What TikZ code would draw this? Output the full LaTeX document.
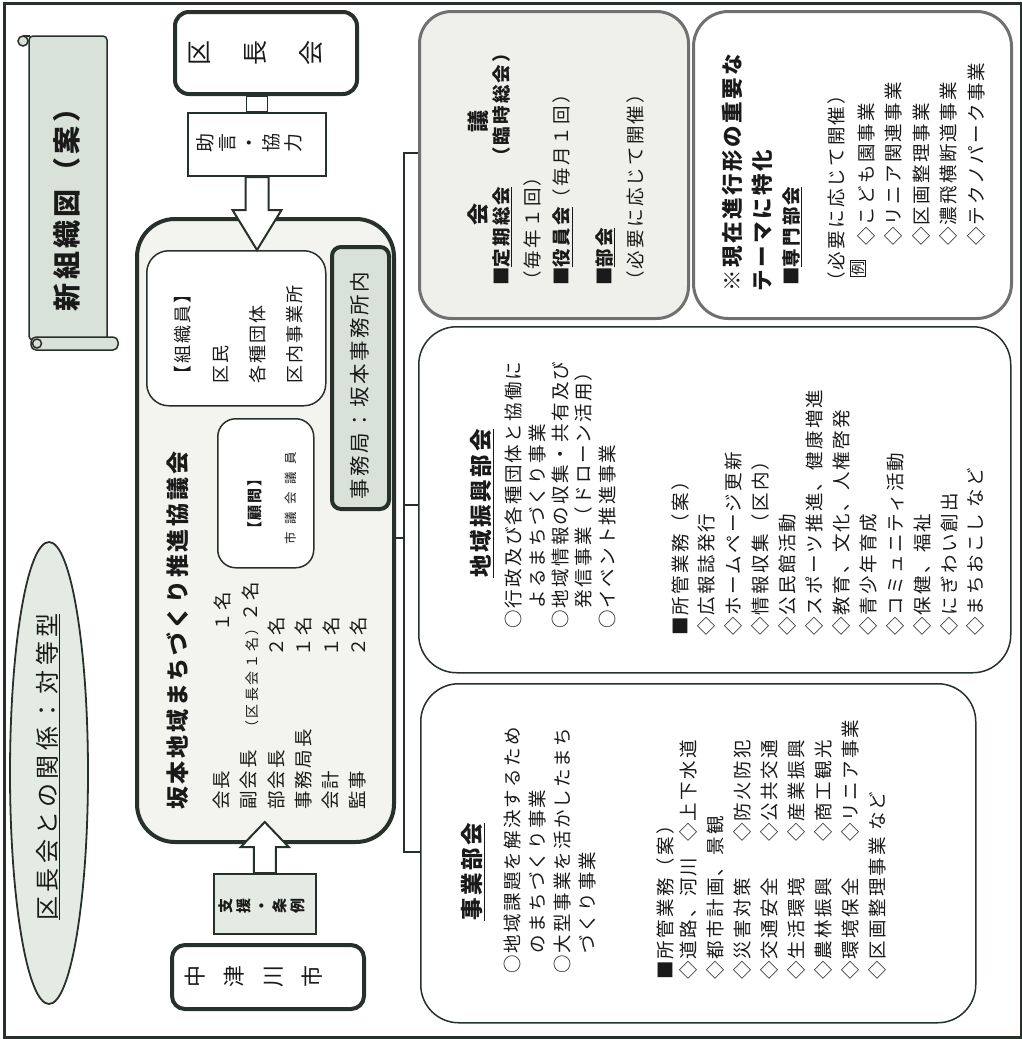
\documentclass[tikz,border=0pt]{standalone}
\usepackage{fontspec}
\setmainfont{Noto Sans CJK JP}
\newfontfamily\jp{Noto Sans CJK JP}[LetterSpace=12]
\newfontfamily\jpa{Noto Sans CJK JP}
\newfontfamily\jpe{Noto Sans CJK JP}[LetterSpace=18]
\newfontfamily\jpw{Noto Sans CJK JP}[LetterSpace=60]
\usetikzlibrary{calc,shapes.geometric}
\definecolor{ink}{HTML}{1A1A1A}
\definecolor{edge}{HTML}{27302B}
\definecolor{gedge}{HTML}{707070}
\definecolor{pale}{HTML}{D9E2D9}
\definecolor{palelt}{HTML}{E4EBE4}
\definecolor{cfill}{HTML}{F3F3EF}
\definecolor{kfill}{HTML}{EFEFEB}
\newcommand{\fsz}[2]{\fontsize{#1}{#2}\selectfont}
\newcommand{\bx}[6]{\node[#6, anchor=north west, minimum width=#4pt-#2pt, minimum height=#5pt-#3pt, inner sep=0pt] (#1) at (#2,#3) {};}
\tikzset{
  txt/.style={rotate=90, inner sep=0pt, text=ink},
  tl/.style={txt, anchor=west},
  blk/.style={txt, align=left, anchor=north west},
  heavy/.style={draw=edge, line width=4pt},
  lite/.style={draw=edge, line width=1.5pt},
  gbox/.style={draw=gedge, line width=3pt},
  conn/.style={draw=edge, line width=1.6pt},
  harrow/.style={draw=edge, line width=2pt, fill=white, line join=miter},
}
\begin{document}
\begin{tikzpicture}[x=1pt,y=-1pt]
\useasboundingbox (0,0) rectangle (1022,1039);
% frame
\bx{frame}{3}{2}{1020}{1036}{draw=edge, line width=2.5pt}
% scroll
\draw[edge, line width=1.5pt, fill=pale, rounded corners=4pt] (29,36) rectangle (107,340);
\draw[edge, line width=1.5pt] (23,36) -- (30,36);
\draw[edge, line width=1.5pt, fill=pale] (23,41) circle (5);
\draw[edge, line width=1.5pt, fill=pale, rounded corners=5pt] (31,337) rectangle (118,350);
\draw[edge, line width=1.5pt, fill=pale] (37,343.5) circle (4.5);
\node[txt, font=\jp\bfseries\fsz{28}{28}] (ttl) at (67,203) {新組織図（案）};
% ellipse
\node[ellipse, draw=edge, line width=1.8pt, fill=palelt, minimum width=78pt, minimum height=462pt, inner sep=0pt] (rel) at (49,773) {};
\node[txt, font=\jpe\fsz{24}{24}] (relT) at (48,767) {\underline{区長会との関係：対等型}};
% boxes
\bx{kucho}{173}{10}{355}{92}{heavy, rounded corners=14pt, fill=white}
\bx{council}{135}{217}{392}{840}{heavy, rounded corners=38pt, fill=cfill}
\bx{soshiki}{146}{250}{325}{405}{lite, rounded corners=22pt, fill=white}
\bx{komon}{217}{418}{313}{567}{lite, rounded corners=18pt, fill=white}
\bx{jimu}{330}{245}{387}{507}{heavy, rounded corners=9pt, fill=pale}
\bx{zyogen}{187}{112}{325}{175}{draw=edge, line width=2pt, fill=white}
\bx{shien}{213}{873}{315}{933}{lite, fill=palelt}
\bx{naka}{170}{943}{362}{1007}{heavy, rounded corners=13pt, fill=white}
\bx{kaigi}{418}{10}{687}{317}{gbox, rounded corners=32pt, fill=kfill}
\bx{tokka}{692}{10}{1010}{317}{gbox, rounded corners=35pt, fill=white}
\bx{chiiki}{418}{326}{1010}{672}{lite, rounded corners=38pt, fill=white}
\bx{jigyo}{420}{683}{975}{1022}{lite, rounded corners=38pt, fill=white}
% connectors
\draw[lite, fill=white] ($(zyogen.north |- kucho.south)+(-10.5,0)$) rectangle ($(zyogen.north)+(10.5,0)$);
\draw[harrow] let \p1=(zyogen.south), \p2=(zyogen.south |- soshiki.north) in
  (\x1-11.5pt,\y1) -- (\x1-11.5pt,\y2+40pt) -- (\x1-24.5pt,\y2+40pt) -- (\p2) --
  (\x1+24.5pt,\y2+40pt) -- (\x1+11.5pt,\y2+40pt) -- (\x1+11.5pt,\y1) -- cycle;
\coordinate (tipB) at (264,822);
\draw[harrow] let \p1=(shien.north), \p2=(shien.north |- tipB) in
  (\x1-11pt,\y1) -- (\x1-11pt,\y2-25pt) -- (\x1-24pt,\y2-25pt) -- (\p2) --
  (\x1+24pt,\y2-25pt) -- (\x1+11pt,\y2-25pt) -- (\x1+11pt,\y1) -- cycle;
\coordinate (bt) at (404,153);
\coordinate (bb) at (404,852);
\draw[conn] (kaigi.west |- bt) -- (bt) -- (bb) -- (jigyo.west |- bb);
\draw[conn] (chiiki.west |- 0,505) -- (bt |- 0,505);
\draw[conn] (council.east |- 0,538) -- (bt |- 0,538);
% kucho / naka / zyogen / shien texts
\node[txt, align=center, font=\jpa\fsz{25}{56}] (kuchoT) at (256,53) {区\\長\\会};
\node[txt, align=center, font=\jpa\fsz{22}{39}] (nakaT) at (254,976) {中\\津\\川\\市};
\node[txt, align=center, font=\jpa\fsz{19}{22}] (zyogenT) at (249,143) {助\\言\\・\\協\\力};
\node[txt, align=center, font=\jpa\bfseries\fsz{15}{18}] (shienT) at (262,906) {支\\援\\・\\条\\例};
% council texts
\node[tl, font=\jp\bfseries\fsz{23}{23}] (cT) at (178,810) {坂本地域まちづくり推進協議会};
\node[blk, font=\jp\fsz{18.5}{27.2}] (names) at (213,810) {会長\\副会長\\部会長\\事務局長\\会計\\監事};
\node[txt, anchor=east, font=\jp\fsz{18.5}{18.5}] (n1) at (222,592) {１名};
\node[txt, anchor=east, font=\jp\fsz{18.5}{18.5}] (n2) at (250,582) {{\jpe\fsz{14}{14}（区長会１名）}２名};
\node[txt, align=right, anchor=north east, font=\jp\fsz{18.5}{27.2}] (n3) at (268,617) {２名\\１名\\１名\\２名};
\node[blk, font=\jp\fsz{18}{37.3}] (soshikiT) at (174.5,384) {【組織員】\\区民\\各種団体\\区内事業所};
\node[tl, font=\jp\bfseries\fsz{15}{15}] (kmT) at (255,537) {【顧問】};
\node[tl, font=\jpw\fsz{12.5}{12.5}] (kmM) at (291,545) {市議会議員};
\node[txt, font=\jp\fsz{20.5}{20.5}] (jimuT) at (360,386) {事務局：坂本事務所内};
% kaigi
\node[txt, font=\jpa\bfseries\fsz{22}{22}] (kgT) at (478,168) {会\hspace{71pt}議};
\node[tl, font=\jp\bfseries\fsz{18.5}{18.5}] (kg1) at (502,286) {■\underline{定期総会}　（臨時総会）};
\node[tl, font=\jp\fsz{18.5}{18.5}] (kg2) at (532,290) {（毎年１回）};
\node[tl, font=\jp\fsz{18.5}{18.5}] (kg3) at (563,286) {\textbf{■\underline{役員会}}（毎月１回）};
\node[tl, font=\jp\bfseries\fsz{18.5}{18.5}] (kg4) at (605,286) {■\underline{部会}};
\node[tl, font=\jp\fsz{18.5}{18.5}] (kg5) at (635,290) {（必要に応じて開催）};
% tokka
\node[tl, font=\jp\bfseries\fsz{21.5}{21.5}] (tk1) at (732,292) {※現在進行形の重要な};
\node[tl, font=\jp\bfseries\fsz{21.5}{21.5}] (tk2) at (762,292) {テーマに特化};
\node[tl, font=\jp\bfseries\fsz{18.5}{18.5}] (tk3) at (792,286) {■\underline{専門部会}};
\node[tl, font=\jp\fsz{18.5}{18.5}] (tk4) at (836,291) {（必要に応じて開催）};
\node[txt, draw=ink, line width=0.8pt, inner sep=1pt, font=\jpa\fsz{14}{14}] (rei) at (858,268) {例};
\node[blk, font=\jp\fsz{18.5}{27.5}] (tk5) at (857,246) {◇こども園事業\\◇リニア関連事業\\◇区画整理事業\\◇濃飛横断道事業\\◇テクノパーク事業};
% chiiki
\node[tl, font=\jp\bfseries\fsz{22.5}{22.5}] (chT) at (482,578) {\underline{地域振興部会}};
\node[blk, font=\jp\fsz{18.5}{23.3}] (chA) at (505,629) {○行政及び各種団体と協働に\\　よるまちづくり事業\\○地域情報の収集・共有及び\\　発信事業（ドローン活用）\\○イベント推進事業};
\node[blk, font=\jp\fsz{18.5}{26.9}] (chB) at (671,636) {■所管業務（案）\\◇広報誌発行\\◇ホームページ更新\\◇情報収集（区内）\\◇公民館活動\\◇スポーツ推進、健康増進\\◇教育、文化、人権啓発\\◇青少年育成\\◇コミュニティ活動\\◇保健、福祉\\◇にぎわい創出\\◇まちおこし\hspace{6pt}など};
% jigyo
\node[tl, font=\jp\bfseries\fsz{22.5}{22.5}] (jgT) at (473,921) {\underline{事業部会}};
\node[blk, font=\jp\fsz{18.5}{25}] (jgA) at (504,974) {○地域課題を解決するため\\　のまちづくり事業\\○大型事業を活かしたまち\\　づくり事業};
\node[tl, font=\jp\fsz{18.5}{18.5}] (jgS) at (665,980) {■所管業務（案）};
\node[blk, font=\jp\fsz{18.5}{27}] (jgB) at (679,980) {◇道路、河川\\◇都市計画、景観\\◇災害対策\\◇交通安全\\◇生活環境\\◇農林振興\\◇環境保全\\◇区画整理事業\hspace{6pt}など};
\node[blk, font=\jp\fsz{18.5}{27}] (jgC) at (679,842) {◇上下水道\\\mbox{}\\◇防火防犯\\◇公共交通\\◇産業振興\\◇商工観光\\◇リニア事業};
\end{tikzpicture}
\end{document}
